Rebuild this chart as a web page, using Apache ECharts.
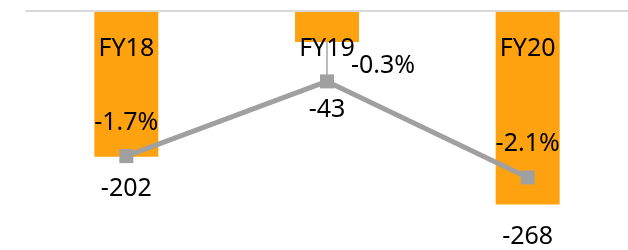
<!DOCTYPE html>
<html>
<head>
<meta charset="utf-8">
<script src="https://cdn.jsdelivr.net/npm/echarts@6/dist/echarts.min.js"></script>
<style>
  html, body { margin: 0; padding: 0; background: #fff; }
  #chart { width: 628px; height: 250px; }
</style>
</head>
<body>
<div id="chart"></div>
<script>
// data
var categories = ["FY18", "FY19", "FY20"];
var barValues = [-202, -43, -268];
var pctValues = [-1.7, -0.3, -2.1];

// axis ranges (both axes hidden)
var y1Min = -331, y1Max = 0;
var y2Min = -3.46, y2Max = 1.02;

var font = "Noto Sans";

// pct value expressed on the bar axis, for the small drop line at FY19
function pctOnBarAxis(p) {
  return y1Min + (p - y2Min) / (y2Max - y2Min) * (y1Max - y1Min);
}

var myChart = echarts.init(document.getElementById("chart"));

var barData = barValues.map(function (v, i) {
  var item = { value: v };
  if (i === 1) item.label = { distance: 55 };
  return item;
});

var lineData = pctValues.map(function (v, i) {
  var item = { value: v };
  if (i === 1) item.label = { offset: [56, 18] };
  return item;
});

var option = {
  animation: false,
  grid: { left: 26, top: 11, width: 610, height: 239 },
  xAxis: {
    type: "category",
    data: categories,
    position: "top",
    axisLine: { lineStyle: { color: "#d9d9d9", width: 2 } },
    axisTick: { show: false },
    axisLabel: {
      inside: true,
      margin: 25,
      color: "#000",
      fontFamily: font,
      fontSize: 25
    },
    z: 5
  },
  yAxis: [
    { type: "value", min: y1Min, max: y1Max, show: false, splitLine: { show: false } },
    { type: "value", min: y2Min, max: y2Max, show: false, splitLine: { show: false } }
  ],
  series: [
    {
      type: "bar",
      data: barData,
      barWidth: 64,
      itemStyle: { color: "#FFA20F" },
      label: {
        show: true,
        position: "bottom",
        distance: 20,
        color: "#000",
        fontFamily: font,
        fontSize: 25
      },
      markLine: {
        silent: true,
        symbol: "none",
        label: { show: false },
        lineStyle: { color: "#a5a5a5", width: 1.5, type: "solid" },
        data: [[
          { coord: [1, barValues[1]] },
          { coord: [1, pctOnBarAxis(pctValues[1])] }
        ]]
      }
    },
    {
      type: "line",
      yAxisIndex: 1,
      data: lineData,
      symbol: "rect",
      symbolSize: 14,
      lineStyle: { color: "#a0a0a0", width: 5 },
      itemStyle: { color: "#a0a0a0" },
      label: {
        show: true,
        position: "top",
        distance: 14,
        color: "#000",
        fontFamily: font,
        fontSize: 25,
        formatter: function (p) { return p.value.toFixed(1) + "%"; }
      },
      z: 4
    }
  ]
};

myChart.setOption(option);
</script>
</body>
</html>
